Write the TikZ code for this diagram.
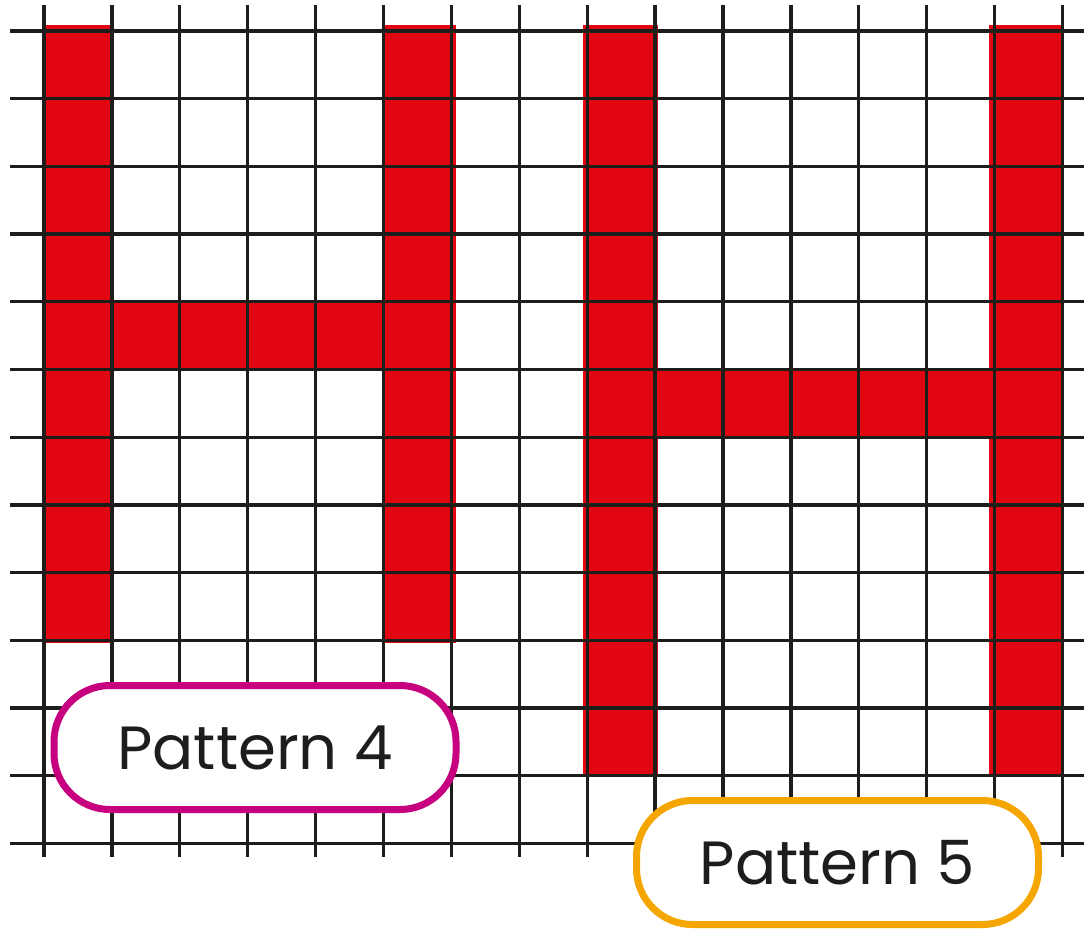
\documentclass[tikz,border=0pt]{standalone}
\usepackage{fontspec}
\setmainfont{Poppins}
\definecolor{gridc}{RGB}{29,29,27}
\definecolor{hred}{RGB}{226,6,19}
\definecolor{pmag}{RGB}{198,0,126}
\definecolor{porange}{RGB}{246,166,0}
\tikzset{
  gridline/.style={draw=gridc, line width=3.3pt},
  cell/.style={fill=hred},
  label/.style={draw=#1, line width=7pt, fill=white, rounded corners=56pt,
    minimum width=402pt, minimum height=124pt, inner sep=0pt,
    font=\fontsize{61}{61}\selectfont, text=gridc},
}
\begin{document}
\begin{tikzpicture}[x=1pt,y=-1pt]
\useasboundingbox (0,0) rectangle (1084,932);
\fill[white] (0,0) rectangle (1084,932);
% red cells
\fill[cell] (43,25) rectangle (113,643);
\fill[cell] (383,25) rectangle (456,643);
\fill[cell] (112,302) rectangle (384,369.5);
\fill[cell] (583,25) rectangle (658,776);
\fill[cell] (989,25) rectangle (1063,776);
\fill[cell] (655,369.5) rectangle (995,437);
% grid
\foreach \i in {0,...,15} {
  \draw[gridline] ({44+67.9*\i},5) -- ({44+67.9*\i},857);
}
\foreach \j in {0,...,12} {
  \draw[gridline] (10,{31+67.7*\j}) -- (1084,{31+67.7*\j});
}
% labels
\node[label=pmag] (p4) at (255,747.5) {Pattern 4};
\node[label=porange] (p5) at (837.5,862.5) {Pattern 5};
\end{tikzpicture}
\end{document}
